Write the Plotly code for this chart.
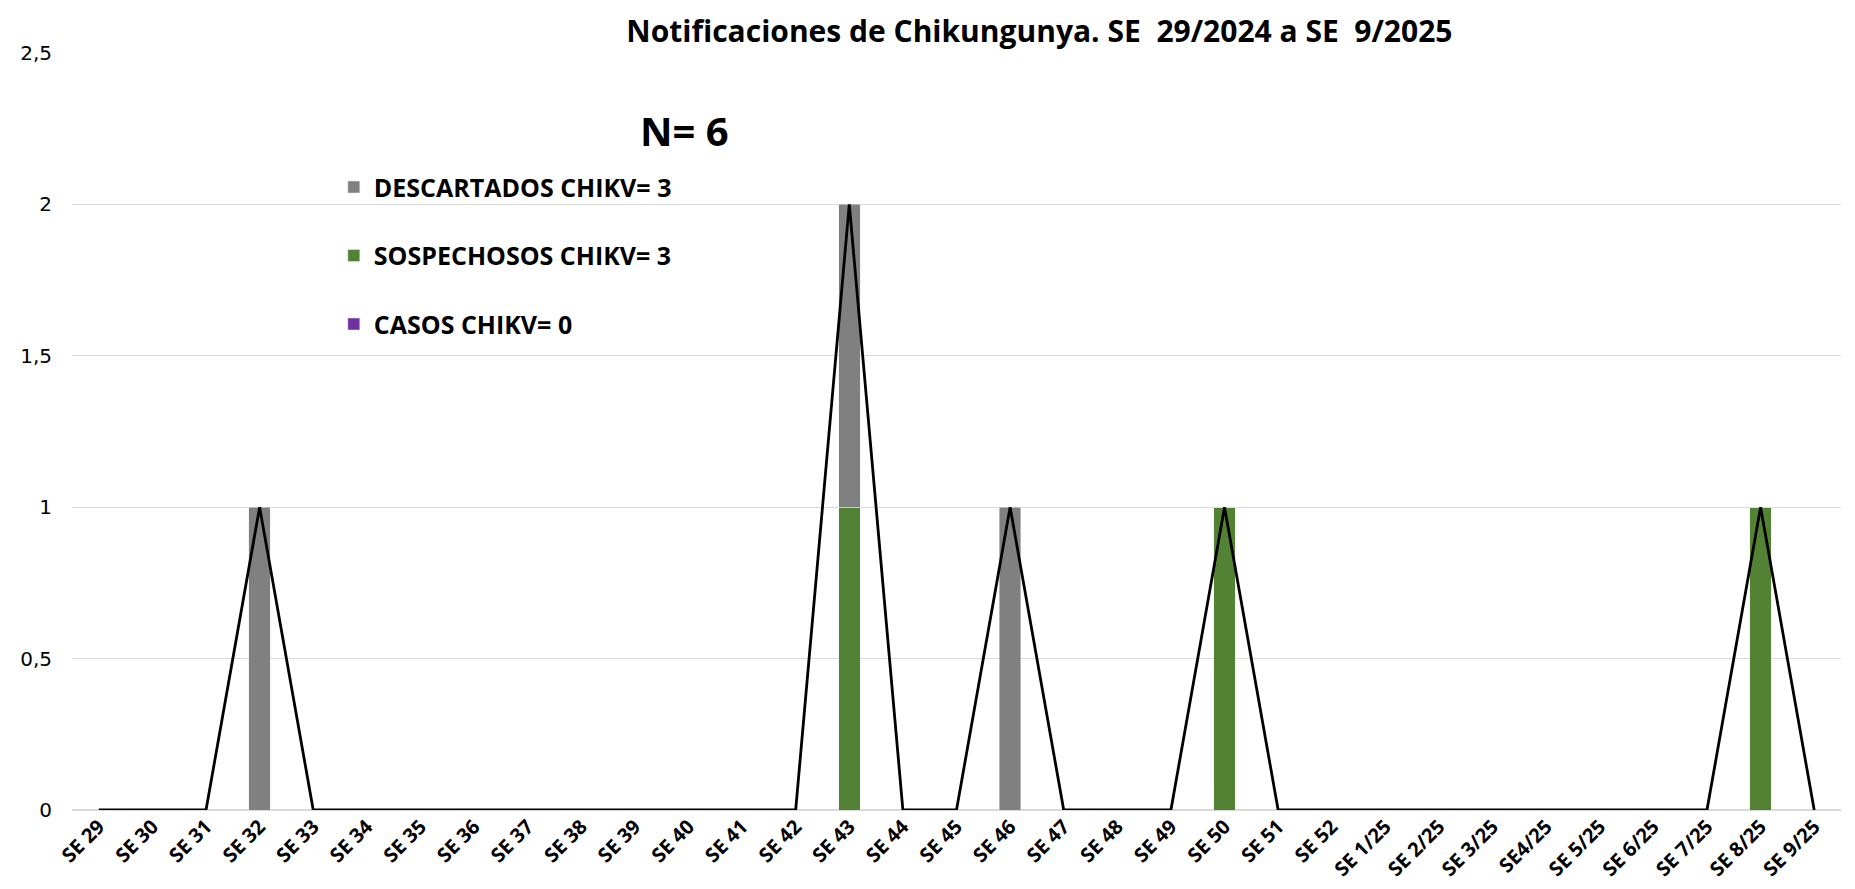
import plotly.graph_objects as go

weeks = ["SE 29", "SE 30", "SE 31", "SE 32", "SE 33", "SE 34", "SE 35", "SE 36", "SE 37",
         "SE 38", "SE 39", "SE 40", "SE 41", "SE 42", "SE 43", "SE 44", "SE 45", "SE 46",
         "SE 47", "SE 48", "SE 49", "SE 50", "SE 51", "SE 52", "SE 1/25", "SE 2/25",
         "SE 3/25", "SE4/25", "SE 5/25", "SE 6/25", "SE 7/25", "SE 8/25", "SE 9/25"]
descartados = [0, 0, 0, 1, 0, 0, 0, 0, 0, 0, 0, 0, 0, 0, 1, 0, 0, 1,
               0, 0, 0, 0, 0, 0, 0, 0, 0, 0, 0, 0, 0, 0, 0]
sospechosos = [0, 0, 0, 0, 0, 0, 0, 0, 0, 0, 0, 0, 0, 0, 1, 0, 0, 0,
               0, 0, 0, 1, 0, 0, 0, 0, 0, 0, 0, 0, 0, 1, 0]
casos = [0] * 33
total = [d + s + c for d, s, c in zip(descartados, sospechosos, casos)]

font_main = "Open Sans"

fig = go.Figure()
fig.add_trace(go.Bar(x=weeks, y=casos, name="CASOS CHIKV= 0", marker_color="#7030A0",
                     legendgroup="c", legendrank=3, width=0.4))
fig.add_trace(go.Bar(x=weeks, y=sospechosos, name="SOSPECHOSOS CHIKV= 3", marker_color="#548235",
                     legendgroup="s", legendrank=2, width=0.4))
fig.add_trace(go.Bar(x=weeks, y=descartados, name="DESCARTADOS CHIKV= 3", marker_color="#808080",
                     legendgroup="d", legendrank=1, width=0.4))
fig.add_trace(go.Scatter(x=weeks, y=total, mode="lines", line=dict(color="black", width=2.8),
                         showlegend=False, hoverinfo="skip"))

fig.update_layout(
    barmode="stack",
    width=1855, height=889,
    margin=dict(l=59, r=22, t=45, b=87),
    plot_bgcolor="white", paper_bgcolor="white",
    title=dict(text="<b>Notificaciones de Chikungunya. SE  29/2024 a SE  9/2025</b>",
               x=0.556, xanchor="center", y=0.974, yanchor="middle",
               font=dict(family=font_main, size=30, color="black")),
    legend=dict(x=0.148, y=0.853, xanchor="left", yanchor="top",
                traceorder="grouped", tracegroupgap=33,
                font=dict(family=font_main, size=25, color="black", weight="bold"),
                bgcolor="rgba(0,0,0,0)"),
    xaxis=dict(type="category", tickangle=-45, showgrid=False, showline=False,
               ticks="", tickfont=dict(family=font_main, size=20, color="black",
                                       weight="bold")),
    yaxis=dict(range=[0, 2.5], dtick=0.5, showgrid=True, gridcolor="#D9D9D9", gridwidth=1,
               zeroline=True, zerolinecolor="#D9D9D9", zerolinewidth=1.5,
               tickformat=",.1~f",
               tickfont=dict(family="DejaVu Sans", size=20, color="black"), ticklabelstandoff=19),
    separators=",.",
    annotations=[dict(text="<b>N= 6</b>", x=0.346, y=0.898, xref="paper", yref="paper",
                      xanchor="center", yanchor="middle", showarrow=False,
                      font=dict(family=font_main, size=40, color="black"))],
    bargap=0.6,
)

fig.write_html("out.html")
